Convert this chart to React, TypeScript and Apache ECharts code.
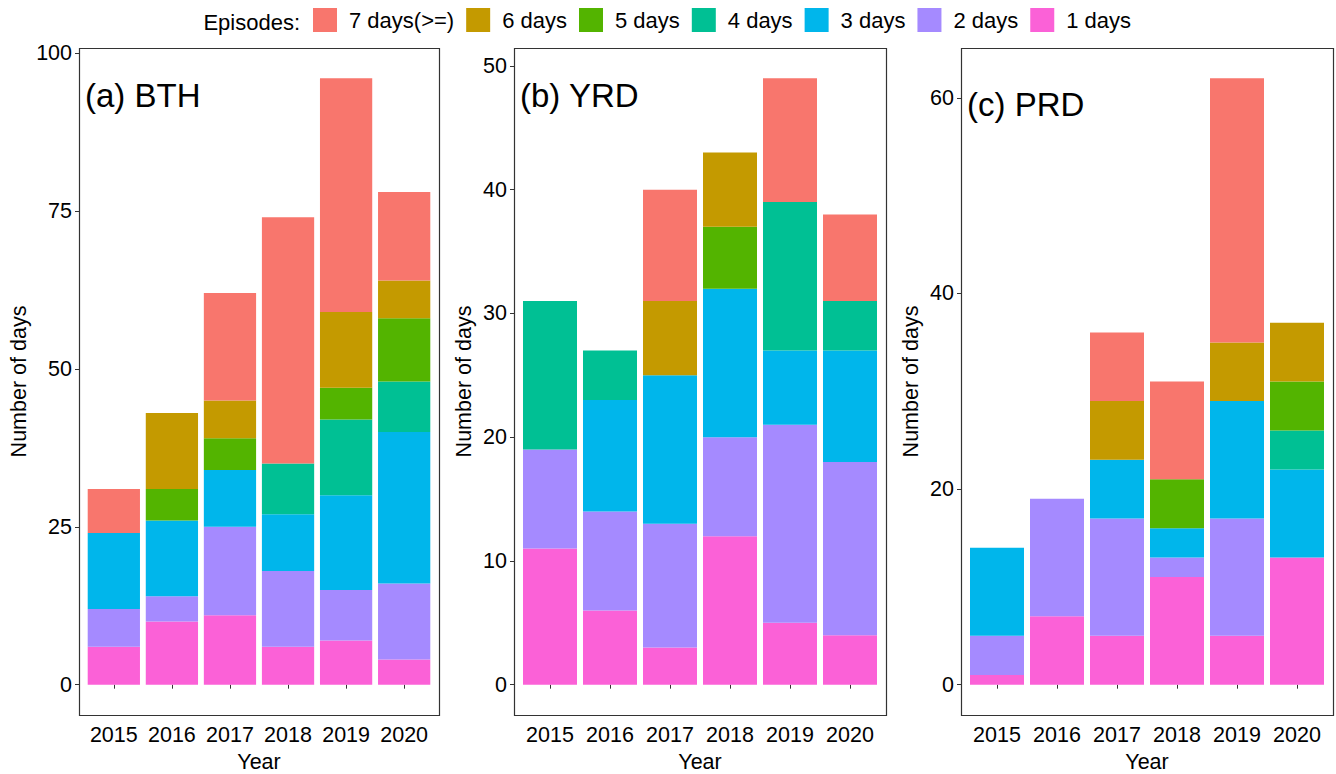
import React, { useEffect, useRef } from "react";
import * as echarts from "echarts";

const years = ["2015", "2016", "2017", "2018", "2019", "2020"];
const episodeNames = ["1 days", "2 days", "3 days", "4 days", "5 days", "6 days", "7 days(>=)"];
const legendOrder = ["7 days(>=)", "6 days", "5 days", "4 days", "3 days", "2 days", "1 days"];
const episodeColors = ["#FB61D7", "#A58AFF", "#00B6EB", "#00C094", "#53B400", "#C49A00", "#F8766D"];

// (a) BTH
const bth1 = [6, 10, 11, 6, 7, 4];
const bth2 = [6, 4, 14, 12, 8, 12];
const bth3 = [12, 12, 9, 9, 15, 24];
const bth4 = [0, 0, 0, 8, 12, 8];
const bth5 = [0, 5, 5, 0, 5, 10];
const bth6 = [0, 12, 6, 0, 12, 6];
const bth7 = [7, 0, 17, 39, 37, 14];
const bthTicks = [0, 25, 50, 75, 100];

// (b) YRD
const yrd1 = [11, 6, 3, 12, 5, 4];
const yrd2 = [8, 8, 10, 8, 16, 14];
const yrd3 = [0, 9, 12, 12, 6, 9];
const yrd4 = [12, 4, 0, 0, 12, 4];
const yrd5 = [0, 0, 0, 5, 0, 0];
const yrd6 = [0, 0, 6, 6, 0, 0];
const yrd7 = [0, 0, 9, 0, 10, 7];
const yrdTicks = [0, 10, 20, 30, 40, 50];

// (c) PRD
const prd1 = [1, 7, 5, 11, 5, 13];
const prd2 = [4, 12, 12, 2, 12, 0];
const prd3 = [9, 0, 6, 3, 12, 9];
const prd4 = [0, 0, 0, 0, 0, 4];
const prd5 = [0, 0, 0, 5, 0, 5];
const prd6 = [0, 0, 6, 0, 6, 6];
const prd7 = [0, 0, 7, 10, 27, 0];
const prdTicks = [0, 20, 40, 60];

const FONT = '"Liberation Sans", Arial, Helvetica, sans-serif';
const AX_FS = 21.5;

const panels = [
  { title: "(a) BTH", series: [bth1, bth2, bth3, bth4, bth5, bth6, bth7], ticks: bthTicks,
    box: { x: 79, w: 360 }, titlePos: [85, 95], nameGap: 49 },
  { title: "(b) YRD", series: [yrd1, yrd2, yrd3, yrd4, yrd5, yrd6, yrd7], ticks: yrdTicks,
    box: { x: 514, w: 372 }, titlePos: [520, 95], nameGap: 39 },
  { title: "(c) PRD", series: [prd1, prd2, prd3, prd4, prd5, prd6, prd7], ticks: prdTicks,
    box: { x: 961, w: 372 }, titlePos: [967, 104], nameGap: 39 },
];

const BOX_TOP = 48;
const BOX_H = 667;

function buildOption() {
  const grid: any[] = [];
  const xAxis: any[] = [];
  const yAxis: any[] = [];
  const series: any[] = [];
  const graphic: any[] = [];

  panels.forEach((p, gi) => {
    const pad = (p.box.w * 0.1) / 6.2;
    const totals = years.map((_, i) => p.series.reduce((s, arr) => s + arr[i], 0));
    const maxT = Math.max(...totals);
    grid.push({
      left: p.box.x + pad,
      top: BOX_TOP,
      width: p.box.w - 2 * pad,
      height: BOX_H,
      show: false,
      containLabel: false,
      outerBoundsMode: "none",
    });
    xAxis.push({
      type: "category",
      gridIndex: gi,
      data: years,
      boundaryGap: true,
      name: "Year",
      nameLocation: "middle",
      nameGap: 35,
      nameTextStyle: { fontSize: AX_FS, fontFamily: FONT, color: "#000" },
      axisLine: { show: false },
      axisTick: { show: true, alignWithLabel: true, interval: 0, length: 4, lineStyle: { color: "#333" } },
      axisLabel: { interval: 0, fontSize: AX_FS, fontFamily: FONT, color: "#000", margin: 9 },
      splitLine: { show: false },
    });
    yAxis.push({
      type: "value",
      gridIndex: gi,
      min: -0.05 * maxT,
      max: 1.05 * maxT,
      offset: pad,
      name: "Number of days",
      nameLocation: "middle",
      nameGap: p.nameGap,
      nameTextStyle: { fontSize: AX_FS, fontFamily: FONT, color: "#000" },
      axisLine: { show: false },
      axisTick: { show: true, length: 4, customValues: p.ticks, lineStyle: { color: "#333" } },
      axisLabel: { fontSize: AX_FS, fontFamily: FONT, color: "#000", margin: 7, customValues: p.ticks },
      splitLine: { show: false },
    });
    p.series.forEach((arr, k) => {
      series.push({
        type: "bar",
        name: episodeNames[k],
        xAxisIndex: gi,
        yAxisIndex: gi,
        stack: "s" + gi,
        barWidth: "90%",
        itemStyle: { color: episodeColors[k] },
        data: arr,
      });
    });
    graphic.push({
      type: "rect",
      shape: { x: p.box.x + 0.5, y: BOX_TOP + 0.5, width: p.box.w, height: BOX_H },
      style: { fill: "none", stroke: "#333", lineWidth: 1.2 },
      z: 10,
    });
    graphic.push({
      type: "text",
      x: p.titlePos[0],
      y: p.titlePos[1],
      style: { text: p.title, fontSize: 33, fontFamily: FONT, fill: "#000", verticalAlign: "middle" },
      z: 10,
    });
  });

  graphic.push({
    type: "text",
    x: 300,
    y: 22,
    style: { text: "Episodes:", fontSize: 22, fontFamily: FONT, fill: "#000", align: "right", verticalAlign: "middle" },
  });

  return {
    animation: false,
    backgroundColor: "#fff",
    color: episodeColors,
    legend: {
      data: legendOrder,
      left: 313,
      top: 8,
      padding: 0,
      itemWidth: 24,
      itemHeight: 24,
      itemGap: 12,
      icon: "rect",
      textStyle: { fontSize: 22, fontFamily: FONT, color: "#000", padding: [3, 0, 0, 7] },
    },
    grid,
    xAxis,
    yAxis,
    series,
    graphic,
  };
}

export default function App() {
  const ref = useRef<HTMLDivElement>(null);
  useEffect(() => {
    if (!ref.current) return;
    const chart = echarts.init(ref.current, null, { renderer: "svg" });
    chart.setOption(buildOption() as any);
    return () => chart.dispose();
  }, []);
  return (
    <div
      ref={ref}
      style={{ position: "fixed", left: 0, top: 0, width: 1336, height: 774, background: "#fff" }}
    />
  );
}
